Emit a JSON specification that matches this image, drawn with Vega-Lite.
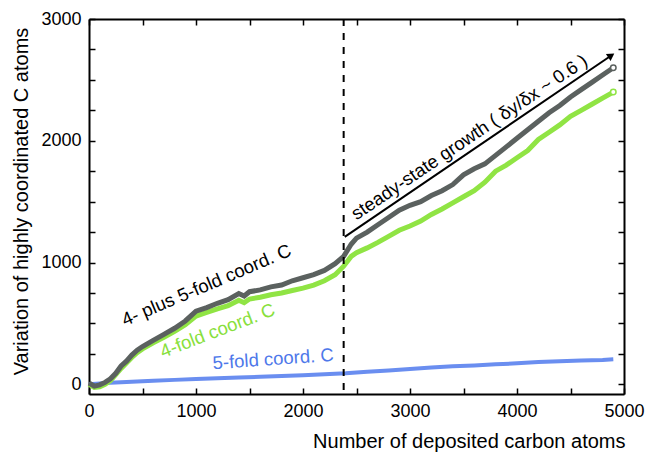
{
  "$schema": "https://vega.github.io/schema/vega-lite/v6.json",
  "width": 535,
  "height": 375,
  "autosize": "none",
  "padding": {"left": 89, "top": 19, "right": 21, "bottom": 65},
  "background": "white",
  "config": {
    "view": {"stroke": null},
    "font": "Liberation Sans",
    "axis": {
      "domainColor": "black", "domainWidth": 2, "tickColor": "black", "tickWidth": 1.5,
      "tickSize": -6, "labelPadding": 14, "labelFontSize": 18, "labelColor": "black",
      "labelFont": "Liberation Sans", "titleFont": "Liberation Sans",
      "titleFontSize": 20, "titleFontWeight": "normal", "titleColor": "black",
      "grid": false, "labelFlush": false, "labelOverlap": false
    }
  },
  "datasets": {
    "curves": [
      {"series": "blue", "x": 0, "y": 0}, {"series": "blue", "x": 200, "y": 12}, {"series": "blue", "x": 400, "y": 20},
      {"series": "blue", "x": 600, "y": 28}, {"series": "blue", "x": 800, "y": 36}, {"series": "blue", "x": 1000, "y": 44},
      {"series": "blue", "x": 1200, "y": 50}, {"series": "blue", "x": 1400, "y": 56}, {"series": "blue", "x": 1600, "y": 61},
      {"series": "blue", "x": 1800, "y": 68}, {"series": "blue", "x": 2000, "y": 75}, {"series": "blue", "x": 2200, "y": 82},
      {"series": "blue", "x": 2400, "y": 90}, {"series": "blue", "x": 2600, "y": 102}, {"series": "blue", "x": 2800, "y": 114},
      {"series": "blue", "x": 3000, "y": 125}, {"series": "blue", "x": 3200, "y": 137}, {"series": "blue", "x": 3400, "y": 147},
      {"series": "blue", "x": 3600, "y": 155}, {"series": "blue", "x": 3800, "y": 164}, {"series": "blue", "x": 4000, "y": 172},
      {"series": "blue", "x": 4200, "y": 182}, {"series": "blue", "x": 4400, "y": 188}, {"series": "blue", "x": 4600, "y": 195},
      {"series": "blue", "x": 4800, "y": 200}, {"series": "blue", "x": 4900, "y": 205},

      {"series": "green", "x": 0, "y": 0}, {"series": "green", "x": 50, "y": -25}, {"series": "green", "x": 100, "y": -20},
      {"series": "green", "x": 150, "y": 0}, {"series": "green", "x": 200, "y": 30}, {"series": "green", "x": 250, "y": 80},
      {"series": "green", "x": 300, "y": 130}, {"series": "green", "x": 350, "y": 175}, {"series": "green", "x": 400, "y": 220},
      {"series": "green", "x": 450, "y": 260}, {"series": "green", "x": 500, "y": 290}, {"series": "green", "x": 600, "y": 340},
      {"series": "green", "x": 700, "y": 385}, {"series": "green", "x": 800, "y": 435}, {"series": "green", "x": 900, "y": 490},
      {"series": "green", "x": 1000, "y": 560}, {"series": "green", "x": 1100, "y": 590}, {"series": "green", "x": 1200, "y": 620},
      {"series": "green", "x": 1300, "y": 645}, {"series": "green", "x": 1400, "y": 690}, {"series": "green", "x": 1450, "y": 670},
      {"series": "green", "x": 1500, "y": 700}, {"series": "green", "x": 1600, "y": 715}, {"series": "green", "x": 1700, "y": 735},
      {"series": "green", "x": 1800, "y": 750}, {"series": "green", "x": 1900, "y": 770}, {"series": "green", "x": 2000, "y": 790},
      {"series": "green", "x": 2100, "y": 815}, {"series": "green", "x": 2200, "y": 850}, {"series": "green", "x": 2300, "y": 900},
      {"series": "green", "x": 2380, "y": 970}, {"series": "green", "x": 2450, "y": 1050}, {"series": "green", "x": 2500, "y": 1080},
      {"series": "green", "x": 2600, "y": 1120}, {"series": "green", "x": 2700, "y": 1165}, {"series": "green", "x": 2800, "y": 1215},
      {"series": "green", "x": 2900, "y": 1265}, {"series": "green", "x": 3000, "y": 1300}, {"series": "green", "x": 3100, "y": 1340},
      {"series": "green", "x": 3200, "y": 1395}, {"series": "green", "x": 3300, "y": 1440}, {"series": "green", "x": 3400, "y": 1490},
      {"series": "green", "x": 3500, "y": 1540}, {"series": "green", "x": 3600, "y": 1590}, {"series": "green", "x": 3700, "y": 1660},
      {"series": "green", "x": 3800, "y": 1750}, {"series": "green", "x": 3900, "y": 1800}, {"series": "green", "x": 4000, "y": 1860},
      {"series": "green", "x": 4100, "y": 1920}, {"series": "green", "x": 4200, "y": 2010}, {"series": "green", "x": 4300, "y": 2070},
      {"series": "green", "x": 4400, "y": 2130}, {"series": "green", "x": 4500, "y": 2200}, {"series": "green", "x": 4600, "y": 2250},
      {"series": "green", "x": 4700, "y": 2300}, {"series": "green", "x": 4800, "y": 2350}, {"series": "green", "x": 4900, "y": 2400},

      {"series": "gray", "x": 0, "y": 10}, {"series": "gray", "x": 50, "y": -15}, {"series": "gray", "x": 100, "y": -5},
      {"series": "gray", "x": 150, "y": 15}, {"series": "gray", "x": 200, "y": 45}, {"series": "gray", "x": 250, "y": 90},
      {"series": "gray", "x": 300, "y": 150}, {"series": "gray", "x": 350, "y": 190}, {"series": "gray", "x": 400, "y": 240},
      {"series": "gray", "x": 450, "y": 280}, {"series": "gray", "x": 500, "y": 310}, {"series": "gray", "x": 600, "y": 360},
      {"series": "gray", "x": 700, "y": 410}, {"series": "gray", "x": 800, "y": 460}, {"series": "gray", "x": 900, "y": 520},
      {"series": "gray", "x": 1000, "y": 600}, {"series": "gray", "x": 1100, "y": 630}, {"series": "gray", "x": 1200, "y": 665},
      {"series": "gray", "x": 1300, "y": 695}, {"series": "gray", "x": 1400, "y": 745}, {"series": "gray", "x": 1450, "y": 725},
      {"series": "gray", "x": 1500, "y": 760}, {"series": "gray", "x": 1600, "y": 775}, {"series": "gray", "x": 1700, "y": 800},
      {"series": "gray", "x": 1800, "y": 815}, {"series": "gray", "x": 1900, "y": 850}, {"series": "gray", "x": 2000, "y": 875},
      {"series": "gray", "x": 2100, "y": 900}, {"series": "gray", "x": 2200, "y": 935}, {"series": "gray", "x": 2300, "y": 990},
      {"series": "gray", "x": 2380, "y": 1050}, {"series": "gray", "x": 2450, "y": 1150}, {"series": "gray", "x": 2500, "y": 1200},
      {"series": "gray", "x": 2600, "y": 1250}, {"series": "gray", "x": 2700, "y": 1310}, {"series": "gray", "x": 2800, "y": 1370},
      {"series": "gray", "x": 2900, "y": 1430}, {"series": "gray", "x": 3000, "y": 1470}, {"series": "gray", "x": 3100, "y": 1500},
      {"series": "gray", "x": 3200, "y": 1550}, {"series": "gray", "x": 3300, "y": 1590}, {"series": "gray", "x": 3400, "y": 1640},
      {"series": "gray", "x": 3500, "y": 1720}, {"series": "gray", "x": 3600, "y": 1770}, {"series": "gray", "x": 3700, "y": 1810},
      {"series": "gray", "x": 3800, "y": 1880}, {"series": "gray", "x": 3900, "y": 1950}, {"series": "gray", "x": 4000, "y": 2020},
      {"series": "gray", "x": 4100, "y": 2090}, {"series": "gray", "x": 4200, "y": 2160}, {"series": "gray", "x": 4300, "y": 2230},
      {"series": "gray", "x": 4400, "y": 2290}, {"series": "gray", "x": 4500, "y": 2360}, {"series": "gray", "x": 4600, "y": 2420},
      {"series": "gray", "x": 4700, "y": 2480}, {"series": "gray", "x": 4800, "y": 2540}, {"series": "gray", "x": 4900, "y": 2600}
    ]
  },
  "layer": [
    {
      "data": {"name": "curves"},
      "transform": [{"filter": "datum.series === 'blue'"}],
      "mark": {"type": "line", "color": "#6a8ef0", "strokeWidth": 4},
      "encoding": {
        "x": {"field": "x", "type": "quantitative", "scale": {"domain": [0, 5000], "nice": false, "zero": false},
          "axis": {"orient": "bottom", "values": [0,500,1000,1500,2000,2500,3000,3500,4000,4500,5000], "format": "d",
            "labelExpr": "datum.value % 1000 === 0 ? datum.label : ''",
            "title": "Number of deposited carbon atoms", "titleX": 536, "titleY": 53, "titleAnchor": "end", "titleAlign": "right", "titleBaseline": "alphabetic"}},
        "y": {"field": "y", "type": "quantitative", "scale": {"domain": [-80, 3000], "nice": false, "zero": false},
          "axis": {"orient": "left", "values": [0,250,500,750,1000,1250,1500,1750,2000,2250,2500,2750,3000], "format": "d",
            "labelExpr": "datum.value % 1000 === 0 ? datum.label : ''",
            "title": "Variation of highly coordinated C atoms", "titleX": -62, "titleY": 182, "titleAngle": -90, "titleAlign": "center", "titleBaseline": "alphabetic"}}
      }
    },
    {
      "data": {"name": "curves"},
      "transform": [{"filter": "datum.series === 'green'"}],
      "mark": {"type": "line", "color": "#90e444", "strokeWidth": 5},
      "encoding": {
        "x": {"field": "x", "type": "quantitative", "scale": {"domain": [0, 5000], "nice": false, "zero": false}, "axis": null},
        "y": {"field": "y", "type": "quantitative", "scale": {"domain": [-80, 3000], "nice": false, "zero": false}, "axis": null}
      }
    },
    {
      "data": {"name": "curves"},
      "transform": [{"filter": "datum.series === 'gray'"}],
      "mark": {"type": "line", "color": "#5b615f", "strokeWidth": 5},
      "encoding": {
        "x": {"field": "x", "type": "quantitative", "scale": {"domain": [0, 5000], "nice": false, "zero": false}, "axis": null},
        "y": {"field": "y", "type": "quantitative", "scale": {"domain": [-80, 3000], "nice": false, "zero": false}, "axis": null}
      }
    },
    {
      "data": {"values": [{"x": 4900, "y": 2600}]},
      "mark": {"type": "point", "shape": "circle", "size": 30, "filled": false, "fill": "white", "fillOpacity": 1, "stroke": "#5b615f", "strokeWidth": 1.5, "opacity": 1},
      "encoding": {
        "x": {"field": "x", "type": "quantitative", "scale": {"domain": [0, 5000], "nice": false, "zero": false}, "axis": null},
        "y": {"field": "y", "type": "quantitative", "scale": {"domain": [-80, 3000], "nice": false, "zero": false}, "axis": null}
      }
    },
    {
      "data": {"values": [{"x": 4900, "y": 2400}]},
      "mark": {"type": "point", "shape": "circle", "size": 30, "filled": false, "fill": "white", "fillOpacity": 1, "stroke": "#90e444", "strokeWidth": 1.5, "opacity": 1},
      "encoding": {
        "x": {"field": "x", "type": "quantitative", "scale": {"domain": [0, 5000], "nice": false, "zero": false}, "axis": null},
        "y": {"field": "y", "type": "quantitative", "scale": {"domain": [-80, 3000], "nice": false, "zero": false}, "axis": null}
      }
    },
    {
      "data": {"values": [{"x": 2380}]},
      "mark": {"type": "rule", "color": "black", "strokeWidth": 2, "strokeDash": [7, 7]},
      "encoding": {
        "x": {"field": "x", "type": "quantitative", "scale": {"domain": [0, 5000], "nice": false, "zero": false}, "axis": null}
      }
    },
    {
      "data": {"values": [{"x": 2390, "y": 1210, "x2": 4881, "y2": 2700}]},
      "mark": {"type": "rule", "color": "black", "strokeWidth": 2},
      "encoding": {
        "x": {"field": "x", "type": "quantitative", "scale": {"domain": [0, 5000], "nice": false, "zero": false},
          "axis": {"orient": "top", "values": [0,500,1000,1500,2000,2500,3000,3500,4000,4500,5000], "labels": false, "title": null}},
        "y": {"field": "y", "type": "quantitative", "scale": {"domain": [-80, 3000], "nice": false, "zero": false},
          "axis": {"orient": "right", "values": [0,250,500,750,1000,1250,1500,1750,2000,2250,2500,2750,3000], "labels": false, "title": null}},
        "x2": {"field": "x2"},
        "y2": {"field": "y2"}
      }
    },
    {
      "data": {"values": [{"x": 4881, "y": 2700}]},
      "mark": {"type": "point", "shape": "triangle-right", "angle": -34, "size": 70, "filled": true, "color": "black", "opacity": 1},
      "encoding": {
        "x": {"field": "x", "type": "quantitative", "scale": {"domain": [0, 5000], "nice": false, "zero": false}, "axis": null},
        "y": {"field": "y", "type": "quantitative", "scale": {"domain": [-80, 3000], "nice": false, "zero": false}, "axis": null}
      }
    },
    {
      "data": {"values": [{"x": 2500, "y": 1345, "label": "steady-state growth ( δy/δx ~ 0.6 )"}]},
      "mark": {"type": "text", "angle": -34, "align": "left", "baseline": "alphabetic", "fontSize": 18.5, "color": "black", "font": "Liberation Sans"},
      "encoding": {
        "x": {"field": "x", "type": "quantitative", "scale": {"domain": [0, 5000], "nice": false, "zero": false}, "axis": null},
        "y": {"field": "y", "type": "quantitative", "scale": {"domain": [-80, 3000], "nice": false, "zero": false}, "axis": null},
        "text": {"field": "label"}
      }
    },
    {
      "data": {"values": [{"x": 336, "y": 477, "label": "4- plus 5-fold coord. C"}]},
      "mark": {"type": "text", "angle": -23, "align": "left", "baseline": "alphabetic", "fontSize": 18.5, "color": "black", "font": "Liberation Sans"},
      "encoding": {
        "x": {"field": "x", "type": "quantitative", "scale": {"domain": [0, 5000], "nice": false, "zero": false}, "axis": null},
        "y": {"field": "y", "type": "quantitative", "scale": {"domain": [-80, 3000], "nice": false, "zero": false}, "axis": null},
        "text": {"field": "label"}
      }
    },
    {
      "data": {"values": [{"x": 692, "y": 216, "label": "4-fold coord. C"}]},
      "mark": {"type": "text", "angle": -21, "align": "left", "baseline": "alphabetic", "fontSize": 18.5, "color": "#88e03c", "font": "Liberation Sans"},
      "encoding": {
        "x": {"field": "x", "type": "quantitative", "scale": {"domain": [0, 5000], "nice": false, "zero": false}, "axis": null},
        "y": {"field": "y", "type": "quantitative", "scale": {"domain": [-80, 3000], "nice": false, "zero": false}, "axis": null},
        "text": {"field": "label"}
      }
    },
    {
      "data": {"values": [{"x": 1159, "y": 123, "label": "5-fold coord. C"}]},
      "mark": {"type": "text", "angle": -4, "align": "left", "baseline": "alphabetic", "fontSize": 18.5, "color": "#4e78ea", "font": "Liberation Sans"},
      "encoding": {
        "x": {"field": "x", "type": "quantitative", "scale": {"domain": [0, 5000], "nice": false, "zero": false}, "axis": null},
        "y": {"field": "y", "type": "quantitative", "scale": {"domain": [-80, 3000], "nice": false, "zero": false}, "axis": null},
        "text": {"field": "label"}
      }
    }
  ],
  "resolve": {"axis": {"x": "independent", "y": "independent"}}
}
